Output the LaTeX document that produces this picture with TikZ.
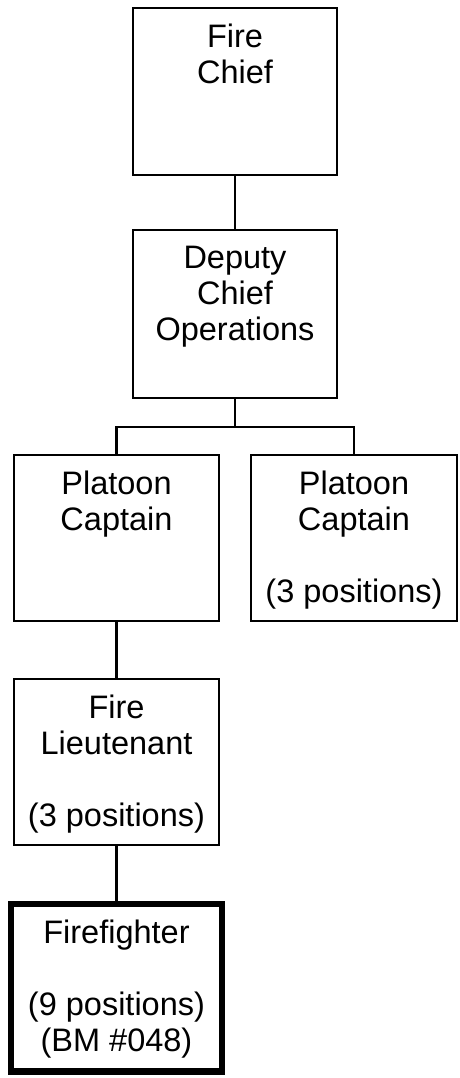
\documentclass[tikz,border=0pt]{standalone}
\usepackage{fontspec}
\setmainfont{Liberation Sans}
\usetikzlibrary{calc}
\begin{document}
\begin{tikzpicture}[x=1pt,y=1pt,
  box/.style={draw=black, line width=2.4pt, fill=white, inner sep=0pt, outer sep=0pt, minimum width=205pt, minimum height=166pt},
  thickbox/.style={box, line width=6.5pt},
  txt/.style={anchor=north, inner sep=0pt, align=center, font=\fontsize{32.5}{36}\selectfont},
  conn/.style={draw=black, line width=2.4pt}]
\useasboundingbox (0,0) rectangle (459,-1078);
\node[box, minimum width=204pt, minimum height=167pt] (chief) at (235,-91.5) {};
\node[box, minimum width=204pt, minimum height=168pt] (deputy) at (235,-314) {};
\node[box] (plL) at (116.5,-538) {};
\node[box, minimum width=206pt] (plR) at (354,-538) {};
\node[box] (lt) at (116.5,-762) {};
\node[thickbox, minimum width=211pt, minimum height=167.5pt] (ff) at (116.5,-987.75) {};

\node[txt] (tchief) at ($(chief.north)+(0,-15.5)$) {Fire\\Chief};
\node[txt] (tdeputy) at ($(deputy.north)+(0,-15.5)$) {Deputy\\Chief\\Operations};
\node[txt] (tplL) at ($(plL.north)+(0,-15.5)$) {Platoon\\Captain};
\node[txt] (tplR) at ($(plR.north)+(0,-15.5)$) {Platoon\\Captain\\[36pt](3 positions)};
\node[txt] (tlt) at ($(lt.north)+(0,-15.5)$) {Fire\\Lieutenant\\[36pt](3 positions)};
\node[txt] (tff) at ($(ff.north)+(0,-15.5)$) {Firefighter\\[36pt](9 positions)\\(BM \#048)};

\coordinate (bus) at (235,-427);
\draw[conn] (chief.south) -- (deputy.north);
\draw[conn] (deputy.south) -- (bus);
\draw[conn] (plL.north) |- (bus) -| (plR.north);
\draw[conn] (plL.south) -- (lt.north);
\draw[conn] (lt.south) -- (ff.north);
\end{tikzpicture}
\end{document}
